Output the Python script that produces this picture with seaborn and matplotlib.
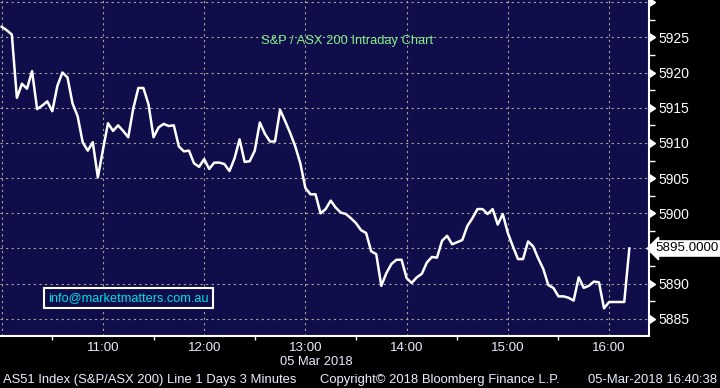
import numpy as np
import pandas as pd
import matplotlib
matplotlib.use("Agg")
import matplotlib.pyplot as plt
import matplotlib.dates as mdates
import matplotlib.ticker as mticker
import seaborn as sns

# S&P/ASX 200 intraday, 3 minute bars from 10:00
close = [
    5926.5, 5926.0, 5925.4, 5916.4, 5918.4, 5917.7, 5920.2, 5914.8, 5915.3, 5915.9,
    5914.5, 5918.1, 5920.0, 5919.3, 5915.6, 5913.8, 5910.1, 5908.9, 5910.1, 5905.1,
    5909.0, 5912.8, 5911.7, 5912.5, 5911.7, 5910.8, 5914.9, 5917.8, 5917.8, 5915.5,
    5910.8, 5912.2, 5912.7, 5912.4, 5912.5, 5909.5, 5908.8, 5908.9, 5907.1, 5906.6,
    5907.7, 5906.3, 5907.2, 5907.2, 5907.0, 5906.0, 5907.8, 5910.5, 5907.3, 5907.4,
    5908.9, 5912.9, 5911.3, 5910.2, 5910.2, 5914.7, 5913.1, 5911.4, 5909.5, 5907.1,
    5903.6, 5902.7, 5902.7, 5900.0, 5900.6, 5901.8, 5900.8, 5900.1, 5899.9, 5899.3,
    5898.6, 5897.6, 5897.2, 5894.6, 5894.2, 5889.7, 5891.5, 5892.8, 5893.4, 5893.4,
    5890.8, 5890.1, 5890.9, 5891.4, 5893.0, 5893.8, 5893.7, 5896.1, 5896.8, 5895.6,
    5895.9, 5896.2, 5898.2, 5899.3, 5900.6, 5900.6, 5899.9, 5900.6, 5898.4, 5899.9,
    5897.2, 5895.3, 5893.5, 5893.5, 5896.0, 5895.3, 5893.6, 5892.1, 5889.8, 5889.4,
    5888.2, 5888.2, 5888.0, 5887.6, 5890.9, 5889.4, 5889.7, 5890.3, 5890.2, 5886.5,
    5887.4, 5887.4, 5887.4, 5887.4, 5895.0,
]
times = pd.date_range("2018-03-05 10:00", periods=len(close), freq="3min")
y_ticks = [5885, 5890, 5895, 5900, 5905, 5910, 5915, 5920, 5925, 5930]
y_labels = ["5885", "5890", "", "5900", "5905", "5910", "5915", "5920", "5925", ""]
last_value = "5895.0000"
title = "S&P / ASX 200 Intraday Chart"
footer_left = "AS51 Index (S&P/ASX 200) Line 1 Days 3 Minutes"
footer_mid = "Copyright\u00a9 2018 Bloomberg Finance L.P."
footer_right = "05-Mar-2018 16:40:38"

navy = "#0f0d4a"
plt.rcParams["font.family"] = ["Liberation Sans", "DejaVu Sans"]

df = pd.DataFrame({"time": times, "close": close})

fig = plt.figure(figsize=(7.2, 3.88), dpi=100, facecolor="black")
ax = fig.add_axes([0, 1 - 336 / 388, 649 / 720, 336 / 388])
ax.set_facecolor(navy)

sns.lineplot(data=df, x="time", y="close", ax=ax, color="white", linewidth=1.8)

ax.set_xlim(pd.Timestamp("2018-03-05 09:59"), pd.Timestamp("2018-03-05 16:23:40"))
ax.set_ylim(5882.57, 5930.3)
ax.set_xlabel("")
ax.set_ylabel("")

# x axis: hour labels, half-hour ticks
ax.xaxis.set_major_locator(mdates.HourLocator())
ax.xaxis.set_major_formatter(
    mticker.FuncFormatter(lambda v, p: "" if mdates.num2date(v).hour == 10 else mdates.num2date(v).strftime("%H:%M")))
ax.xaxis.set_minor_locator(mdates.MinuteLocator(byminute=[30]))
ax.tick_params(axis="x", which="major", length=0, pad=4, labelsize=9.6, labelcolor="#e8ecff")
ax.tick_params(axis="x", which="minor", length=3, width=1, color="white", direction="out")

# y axis on the right
ax.yaxis.tick_right()
ax.set_yticks(y_ticks)
ax.set_yticklabels(y_labels)
ax.yaxis.set_minor_locator(mticker.MultipleLocator(2.5))
ax.tick_params(axis="y", which="major", length=0, pad=7, labelsize=10, labelcolor="white")
ax.tick_params(axis="y", which="minor", length=4, width=1, color="white", direction="out")
ax.plot(np.ones(len(y_ticks)), y_ticks, transform=ax.get_yaxis_transform(),
        marker=9, ms=6, color="white", ls="none", clip_on=False)

ax.grid(True, which="major", color="#a8a49a", linestyle=(0, (2, 3)), linewidth=0.8)

for side in ["left", "top"]:
    ax.spines[side].set_visible(False)
for side in ["right", "bottom"]:
    ax.spines[side].set_color("white")
    ax.spines[side].set_linewidth(1.5)

ax.text(0.5355, 1 - 41 / 336, title, transform=ax.transAxes, ha="center", va="center",
        color="#86ee86", fontsize=9.3)

ax.text(128.5 / 649, 1 - 298 / 336, "info@marketmatters.com.au", transform=ax.transAxes,
        ha="center", va="center", color="#00dde6", fontsize=9.2,
        bbox=dict(boxstyle="square,pad=0.3", facecolor=navy, edgecolor="white", linewidth=1.5))

# last value flag
ax.annotate(last_value, xy=(1, close[-1]), xycoords=ax.get_yaxis_transform(),
            xytext=(4.5, 0), textcoords="offset points", ha="left", va="center",
            color="black", fontsize=9.6, annotation_clip=False,
            bbox=dict(boxstyle="larrow,pad=0.12", facecolor="white", edgecolor="white"))

fig.text(316 / 720, 1 - 362 / 388, "05 Mar 2018", ha="center", va="center",
         color="#e8ecff", fontsize=9.3)
fig.text(3 / 720, 1 - 380 / 388, footer_left, ha="left", va="center", color="#e8ecff", fontsize=9.4)
fig.text(320 / 720, 1 - 380 / 388, footer_mid, ha="left", va="center", color="#e8ecff", fontsize=9.4)
fig.text(717 / 720, 1 - 380 / 388, footer_right, ha="right", va="center", color="#e8ecff", fontsize=9.4)

fig.savefig("out.png", dpi=100, facecolor="black")
